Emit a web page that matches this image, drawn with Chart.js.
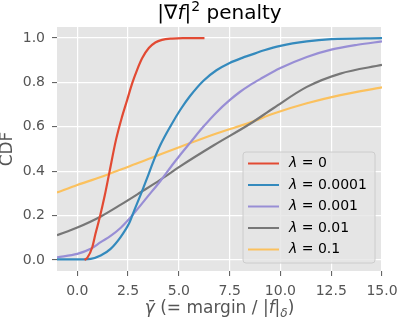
<!DOCTYPE html>
<html>
<head>
<meta charset="utf-8">
<script src="https://cdn.jsdelivr.net/npm/chart.js@4.4.0/dist/chart.umd.min.js"></script>
<style>
  body { margin: 0; background: #fff; }
  #wrap { width: 399px; height: 320px; }
</style>
</head>
<body>
<div id="wrap"><canvas id="cdfChart" width="399" height="320"></canvas></div>
<script>
const LAMBDAS = ['0', '0.0001', '0.001', '0.01', '0.1'];
const COLORS = ['#E24A33', '#348ABD', '#988ED5', '#777777', '#FBC15E'];

const X_TICKS = [0, 2.5, 5, 7.5, 10, 12.5, 15];
const Y_TICKS = [0, 0.2, 0.4, 0.6, 0.8, 1.0];

const redX = [0.35, 0.49, 0.74, 0.9, 1.1, 1.35, 1.57, 1.9, 2.2, 2.45, 2.7, 2.94, 3.19, 3.52, 3.84, 4.17, 4.66, 5.2, 6.26];
const redY = [0, 0.009, 0.058, 0.12, 0.19, 0.29, 0.39, 0.54, 0.645, 0.72, 0.796, 0.856, 0.909, 0.955, 0.98, 0.992, 0.998, 1.0, 1.0];

const blueX = [-1, 0, 0.66, 1.15, 1.64, 2.13, 2.55, 2.79, 3.12, 3.44, 3.77, 4.1, 4.6, 5.08, 5.56, 6.21, 6.85, 7.5, 8.15, 8.47, 9.2, 10, 11.3, 12.5, 15];
const blueY = [0.002, 0.002, 0.005, 0.02, 0.05, 0.103, 0.165, 0.22, 0.294, 0.37, 0.45, 0.52, 0.605, 0.678, 0.74, 0.808, 0.855, 0.888, 0.912, 0.922, 0.945, 0.965, 0.985, 0.995, 1.0];

const purpleX = [-1, 0, 0.66, 1.15, 1.64, 2.14, 2.46, 2.95, 3.44, 4.1, 4.75, 5.08, 5.57, 6.2, 6.85, 7.5, 8.0, 8.5, 9.0, 10, 11.3, 12.5, 13.8, 15];
const purpleY = [0.012, 0.027, 0.05, 0.08, 0.108, 0.145, 0.175, 0.228, 0.283, 0.357, 0.437, 0.475, 0.53, 0.6, 0.665, 0.72, 0.757, 0.788, 0.815, 0.865, 0.915, 0.948, 0.97, 0.985];

const grayX = [-1, 0, 1.16, 2.14, 3.12, 4.1, 5.08, 6.72, 8.53, 9.67, 11.3, 12.95, 15];
const grayY = [0.111, 0.146, 0.196, 0.249, 0.305, 0.362, 0.423, 0.517, 0.615, 0.685, 0.78, 0.84, 0.879];

const yellowX = [-1, 0, 1.16, 2.14, 3.12, 4.1, 5.08, 6.85, 8.53, 9.67, 11.3, 12.95, 15];
const yellowY = [0.304, 0.338, 0.374, 0.408, 0.441, 0.476, 0.51, 0.57, 0.62, 0.66, 0.706, 0.743, 0.778];

const SERIES_X = [redX, blueX, purpleX, grayX, yellowX];
const SERIES_Y = [redY, blueY, purpleY, grayY, yellowY];

const FONT = '"DejaVu Sans", sans-serif';

const toPoints = (xs, ys) => xs.map((x, i) => ({ x: x, y: ys[i] }));

// draws a row of text pieces (some italic / sub / superscript)
const drawPieces = (ctx, pieces, x, y, align) => {
  let total = 0;
  pieces.forEach(p => {
    ctx.font = (p.italic ? 'italic ' : '') + p.size + 'px ' + FONT;
    p.w = ctx.measureText(p.t).width;
    total += p.w;
  });
  let cx = align === 'center' ? x - total / 2 : x;
  pieces.forEach(p => {
    ctx.font = (p.italic ? 'italic ' : '') + p.size + 'px ' + FONT;
    ctx.fillText(p.t, cx, y + (p.dy || 0));
    cx += p.w;
  });
};

const bgPlugin = {
  id: 'ggBackground',
  beforeDraw(chart) {
    const { ctx, chartArea: a } = chart;
    ctx.save();
    ctx.fillStyle = '#E5E5E5';
    ctx.fillRect(a.left, a.top, a.right - a.left, a.bottom - a.top);
    ctx.restore();
  }
};

const textPlugin = {
  id: 'mathTexts',
  afterDraw(chart) {
    const { ctx, chartArea: a } = chart;
    const mid = (a.left + a.right) / 2;
    ctx.save();
    ctx.textAlign = 'left';
    ctx.textBaseline = 'alphabetic';

    // title
    ctx.fillStyle = '#000';
    drawPieces(ctx, [
      { t: '|\u2207', size: 20 },
      { t: 'f', size: 20, italic: true },
      { t: '|', size: 20 },
      { t: '2', size: 14, dy: -8 },
      { t: ' penalty', size: 20 }
    ], mid, 19, 'center');

    // x label
    ctx.fillStyle = '#555555';
    drawPieces(ctx, [
      { t: '\u03B3\u0304', size: 17, italic: true },
      { t: ' (= margin / |', size: 17 },
      { t: 'f', size: 17, italic: true },
      { t: '|', size: 17 },
      { t: '\u03B4', size: 12, italic: true, dy: 4 },
      { t: ')', size: 17 }
    ], mid, 313, 'center');

    // y label
    ctx.save();
    ctx.translate(8, (a.top + a.bottom) / 2);
    ctx.rotate(-Math.PI / 2);
    ctx.textAlign = 'center';
    ctx.textBaseline = 'middle';
    ctx.font = '17px ' + FONT;
    ctx.fillText('CDF', 0, 0);
    ctx.restore();

    // legend box inside the plot
    const bx = 243, by = 152, bw = 132, bh = 111;
    ctx.beginPath();
    ctx.roundRect(bx, by, bw, bh, 3);
    ctx.fillStyle = 'rgba(229,229,229,0.8)';
    ctx.fill();
    ctx.strokeStyle = '#CCCCCC';
    ctx.lineWidth = 1;
    ctx.stroke();

    chart.data.datasets.forEach((ds, i) => {
      const ry = by + 11.5 + i * 21.5;
      ctx.beginPath();
      ctx.moveTo(bx + 5, ry);
      ctx.lineTo(bx + 36, ry);
      ctx.strokeStyle = ds.borderColor;
      ctx.lineWidth = 2;
      ctx.stroke();
      ctx.fillStyle = '#000';
      ctx.textBaseline = 'middle';
      drawPieces(ctx, [
        { t: '\u03BB', size: 14, italic: true },
        { t: ' = ' + LAMBDAS[i], size: 14 }
      ], bx + 46, ry, 'left');
    });
    ctx.restore();
  }
};

const ctx = document.getElementById('cdfChart').getContext('2d');
const cdfChart = new Chart(ctx, {
  type: 'line',
  data: {
    datasets: LAMBDAS.map((l, i) => ({
      label: '\u03BB = ' + l,
      data: toPoints(SERIES_X[i], SERIES_Y[i]),
      borderColor: COLORS[i],
      backgroundColor: COLORS[i],
      borderWidth: 2.2,
      pointRadius: 0,
      cubicInterpolationMode: 'monotone',
      fill: false
    }))
  },
  options: {
    responsive: false,
    animation: false,
    layout: { padding: { top: 27, right: 17, left: 0, bottom: 0 } },
    plugins: {
      legend: { display: false },
      title: { display: false },
      tooltip: { enabled: false }
    },
    scales: {
      x: {
        type: 'linear',
        min: -1,
        max: 15,
        afterBuildTicks: scale => { scale.ticks = X_TICKS.map(v => ({ value: v })); },
        afterFit: scale => { scale.height = 49; scale.paddingLeft = 0; scale.paddingRight = 0; },
        grid: { color: '#FFFFFF', lineWidth: 1.2, tickColor: '#555555', tickLength: 5, tickWidth: 1 },
        border: { display: false },
        ticks: {
          color: '#555555',
          padding: 7,
          maxRotation: 0,
          font: { family: FONT, size: 14 },
          callback: v => v.toFixed(1)
        }
      },
      y: {
        min: -0.05,
        max: 1.05,
        afterBuildTicks: scale => { scale.ticks = Y_TICKS.map(v => ({ value: v })); },
        afterFit: scale => { scale.width = 57; scale.paddingTop = 0; scale.paddingBottom = 0; },
        grid: { color: '#FFFFFF', lineWidth: 1.2, tickColor: '#555555', tickLength: 5, tickWidth: 1 },
        border: { display: false },
        ticks: {
          color: '#555555',
          padding: 7,
          font: { family: FONT, size: 14 },
          callback: v => v.toFixed(1)
        }
      }
    }
  },
  plugins: [bgPlugin, textPlugin]
});
</script>
</body>
</html>
